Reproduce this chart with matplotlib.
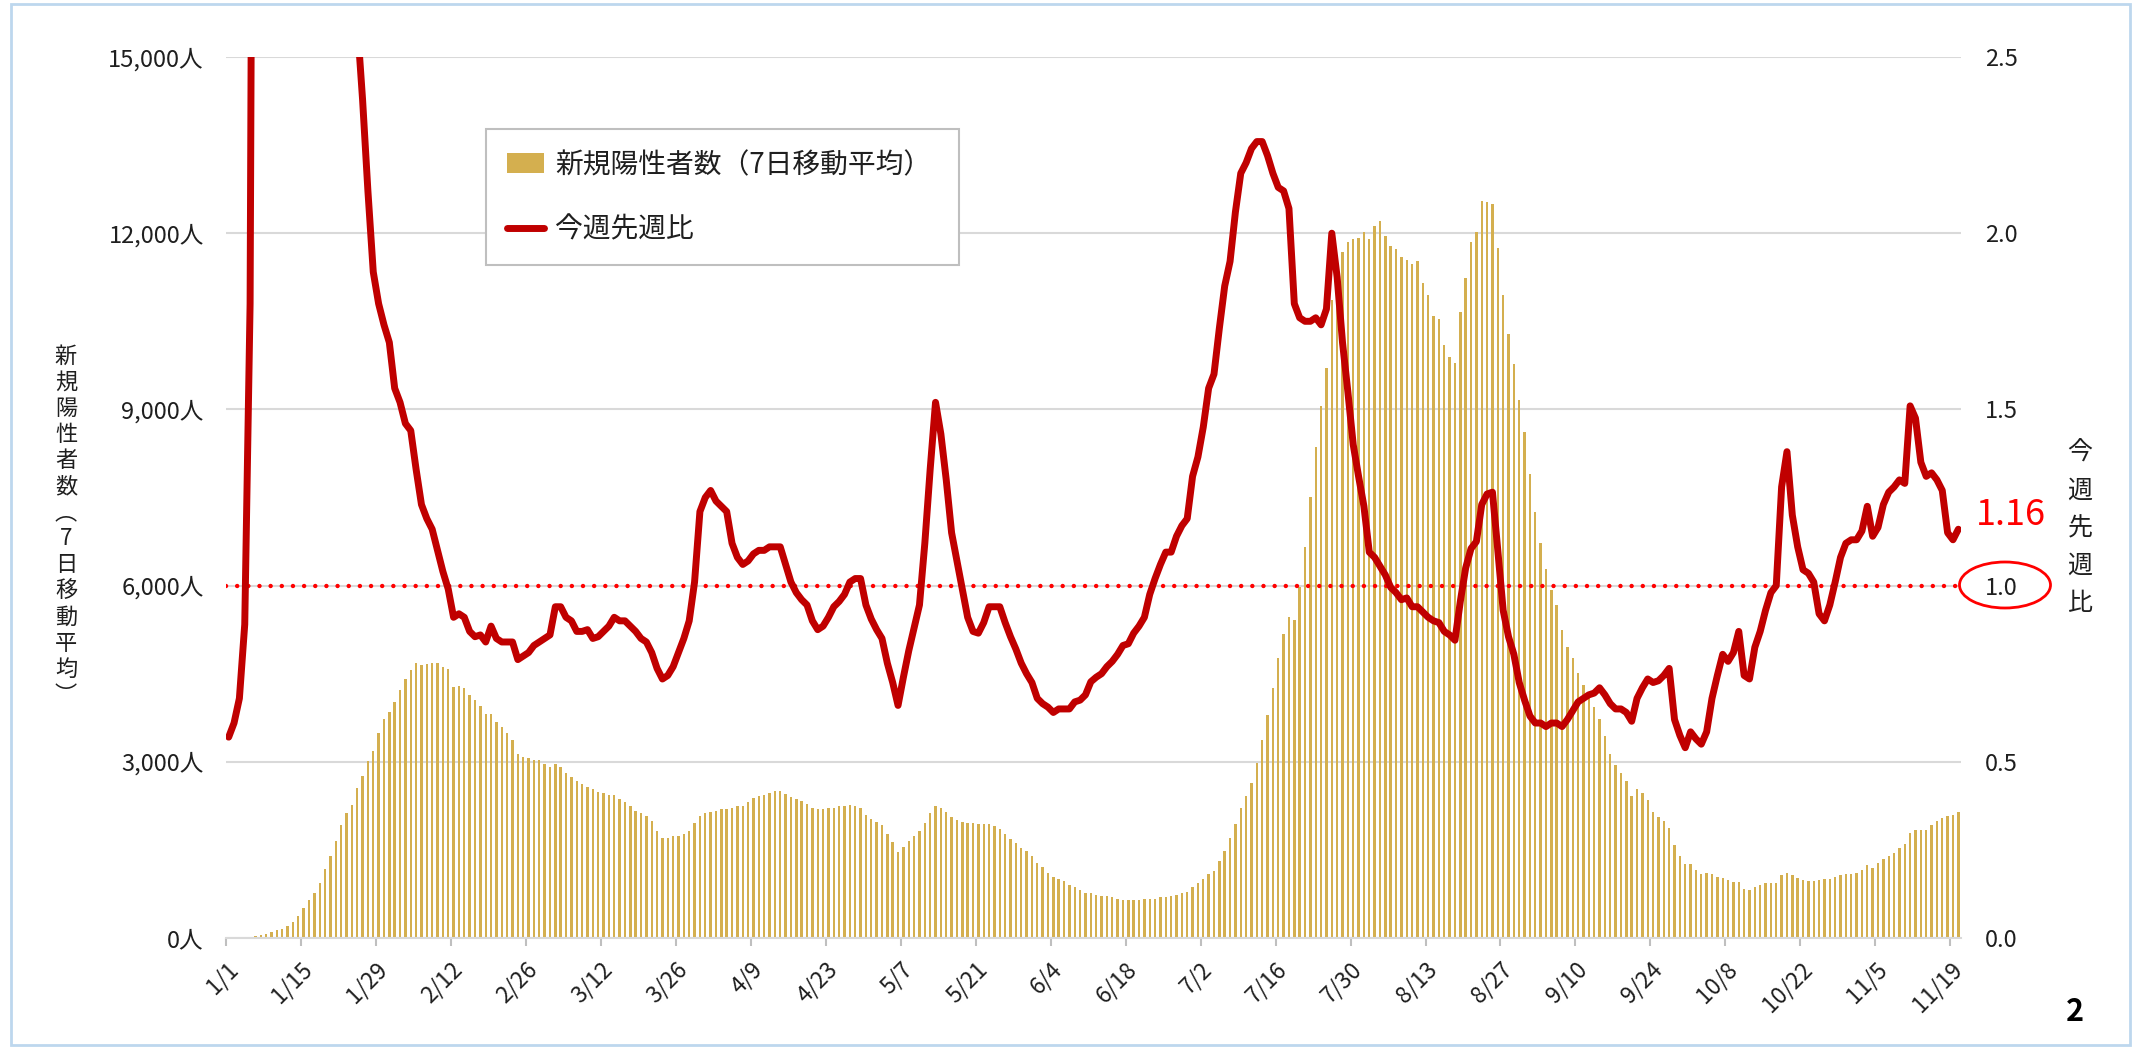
import numpy as np
import matplotlib
matplotlib.use("Agg")
import matplotlib.pyplot as plt
from matplotlib.patches import Patch, Ellipse, Rectangle
from matplotlib.lines import Line2D
from matplotlib.ticker import FuncFormatter

plt.rcParams['font.family'] = ['Noto Sans CJK JP', 'DejaVu Sans']

# x tick labels, every 14 days from 1/1
tick_labels = ['1/1', '1/15', '1/29', '2/12', '2/26', '3/12', '3/26', '4/9',
               '4/23', '5/7', '5/21', '6/4', '6/18', '7/2', '7/16', '7/30',
               '8/13', '8/27', '9/10', '9/24', '10/8', '10/22', '11/5', '11/19']

# new positives, 7-day moving average (1/1 .. 11/20)
new_cases = [
    5, 6, 8, 12, 20, 40, 50, 70, 100, 130,
    150, 200, 270, 375, 510, 640, 770, 940, 1180, 1400,
    1660, 1925, 2120, 2270, 2550, 2760, 3010, 3180, 3485, 3730,
    3850, 4020, 4215, 4410, 4570, 4680, 4640, 4660, 4690, 4690,
    4620, 4580, 4270, 4290, 4260, 4130, 4050, 3950, 3810, 3810,
    3670, 3600, 3485, 3376, 3139, 3080, 3060, 3030, 3030, 2960,
    2910, 2960, 2910, 2815, 2745, 2665, 2615, 2565, 2535, 2490,
    2470, 2440, 2440, 2370, 2320, 2250, 2170, 2120, 2075, 1995,
    1815, 1700, 1700, 1730, 1745, 1775, 1825, 1955, 2075, 2120,
    2150, 2170, 2190, 2190, 2220, 2250, 2250, 2310, 2390, 2420,
    2440, 2470, 2510, 2500, 2450, 2400, 2370, 2340, 2290, 2220,
    2190, 2190, 2210, 2220, 2240, 2250, 2270, 2250, 2220, 2100,
    2020, 1975, 1925, 1775, 1630, 1460, 1550, 1660, 1730, 1825,
    1955, 2120, 2240, 2220, 2150, 2055, 2005, 1975, 1955, 1955,
    1945, 1945, 1945, 1905, 1855, 1775, 1680, 1610, 1530, 1480,
    1400, 1285, 1205, 1115, 1035, 1005, 965, 910, 860, 820,
    770, 760, 730, 720, 710, 690, 660, 650, 650, 650,
    650, 660, 670, 670, 690, 700, 710, 730, 760, 790,
    870, 940, 1005, 1085, 1135, 1305, 1480, 1700, 1945, 2220,
    2420, 2635, 2980, 3375, 3800, 4265, 4760, 5180, 5460, 5410,
    5970, 6665, 7500, 8360, 9060, 9700, 10860, 11420, 11680, 11850,
    11900, 11925, 12015, 11900, 12120, 12210, 11945, 11785, 11730, 11600,
    11550, 11470, 11530, 11155, 10940, 10590, 10545, 10090, 9890, 9790,
    10660, 11235, 11845, 12025, 12555, 12535, 12490, 11745, 10940, 10285,
    9775, 9160, 8620, 7900, 7255, 6730, 6290, 5925, 5675, 5250,
    4955, 4760, 4510, 4315, 4125, 3930, 3730, 3435, 3140, 2940,
    2815, 2665, 2420, 2545, 2470, 2350, 2140, 2055, 1995, 1875,
    1580, 1400, 1265, 1265, 1165, 1085, 1115, 1085, 1045, 1015,
    985, 955, 955, 830, 810, 870, 910, 940, 940, 940,
    1065, 1105, 1065, 1015, 985, 965, 965, 985, 1005, 1005,
    1035, 1065, 1085, 1085, 1105, 1155, 1235, 1185, 1285, 1350,
    1400, 1450, 1530, 1600, 1795, 1845, 1845, 1845, 1925, 1995,
    2045, 2075, 2095, 2140,
]

# this week / last week ratio
ratio = [
    0.57, 0.61, 0.68, 0.89, 1.80, 5.5, 8.0, 9.5, 10.0, 10.8,
    10.0, 9.5, 6.8, 7.5, 7.3, 6.4, 5.9, 6.3, 5.9, 5.2,
    4.4, 3.8, 3.3, 2.95, 2.6, 2.38, 2.12, 1.89, 1.80, 1.74,
    1.69, 1.56, 1.52, 1.46, 1.44, 1.33, 1.23, 1.19, 1.16, 1.10,
    1.04, 0.99, 0.91, 0.92, 0.91, 0.87, 0.855, 0.86, 0.84, 0.885,
    0.85, 0.84, 0.84, 0.84, 0.79, 0.80, 0.81, 0.83, 0.84, 0.85,
    0.86, 0.94, 0.94, 0.91, 0.90, 0.87, 0.87, 0.875, 0.85, 0.855,
    0.87, 0.885, 0.91, 0.90, 0.90, 0.885, 0.87, 0.85, 0.84, 0.81,
    0.765, 0.735, 0.745, 0.77, 0.81, 0.85, 0.90, 1.01, 1.21, 1.25,
    1.27, 1.24, 1.225, 1.21, 1.12, 1.08, 1.06, 1.07, 1.09, 1.10,
    1.10, 1.11, 1.11, 1.11, 1.06, 1.01, 0.98, 0.96, 0.945, 0.90,
    0.875, 0.885, 0.91, 0.94, 0.955, 0.975, 1.01, 1.02, 1.02, 0.945,
    0.905, 0.875, 0.85, 0.78, 0.725, 0.66, 0.74, 0.815, 0.88, 0.945,
    1.12, 1.33, 1.52, 1.43, 1.30, 1.15, 1.07, 0.99, 0.91, 0.87,
    0.865, 0.895, 0.94, 0.94, 0.94, 0.895, 0.855, 0.82, 0.78, 0.75,
    0.725, 0.68, 0.665, 0.655, 0.64, 0.65, 0.65, 0.65, 0.67, 0.675,
    0.69, 0.727, 0.74, 0.75, 0.77, 0.785, 0.805, 0.83, 0.835, 0.865,
    0.885, 0.91, 0.975, 1.02, 1.06, 1.095, 1.095, 1.14, 1.17, 1.19,
    1.31, 1.365, 1.45, 1.56, 1.60, 1.73, 1.85, 1.92, 2.06, 2.17,
    2.20, 2.24, 2.26, 2.26, 2.22, 2.17, 2.13, 2.12, 2.07, 1.80,
    1.76, 1.75, 1.75, 1.76, 1.74, 1.785, 2.00, 1.875, 1.69, 1.55,
    1.40, 1.31, 1.225, 1.095, 1.08, 1.055, 1.03, 0.995, 0.98, 0.96,
    0.965, 0.94, 0.94, 0.925, 0.91, 0.90, 0.895, 0.87, 0.86, 0.845,
    0.955, 1.05, 1.105, 1.125, 1.23, 1.26, 1.265, 1.10, 0.93, 0.855,
    0.805, 0.725, 0.675, 0.63, 0.61, 0.61, 0.60, 0.61, 0.61, 0.60,
    0.62, 0.645, 0.67, 0.68, 0.69, 0.695, 0.71, 0.69, 0.665, 0.65,
    0.65, 0.64, 0.615, 0.68, 0.71, 0.735, 0.725, 0.73, 0.745, 0.765,
    0.62, 0.575, 0.54, 0.585, 0.565, 0.55, 0.585, 0.68, 0.745, 0.805,
    0.785, 0.81, 0.87, 0.745, 0.735, 0.825, 0.87, 0.93, 0.98, 1.00,
    1.28, 1.38, 1.20, 1.11, 1.045, 1.035, 1.01, 0.92, 0.90, 0.945,
    1.01, 1.08, 1.12, 1.13, 1.13, 1.155, 1.225, 1.14, 1.165, 1.23,
    1.265, 1.28, 1.30, 1.29, 1.51, 1.475, 1.35, 1.31, 1.32, 1.30,
    1.27, 1.15, 1.13, 1.16,
]

# vertical-form brackets for the stacked title
left_label = '新規陽性者数︵7日移動平均︶'
right_label = '今週先週比'
latest_text = '1.16'

BAR_C = '#D4AF4F'
LINE_C = '#C00000'
TXT_C = '#1f1f1f'
GRID_C = '#D9D9D9'

W, H = 2134, 1049
n = len(new_cases)
days = np.arange(n) + 0.5

fig = plt.figure(figsize=(W / 100, H / 100), dpi=100)
ax = fig.add_axes([226 / W, 1 - 938 / H, (1961 - 226) / W, (938 - 57) / H])
ax2 = ax.twinx()

ax.bar(days, new_cases, width=0.45, color=BAR_C, zorder=2)
ax.set_xlim(0, n)
ax.set_ylim(0, 15000)
ax.set_yticks(range(0, 15001, 3000))
ax.yaxis.set_major_formatter(FuncFormatter(lambda v, p: f'{int(v):,}人'))
ax.grid(axis='y', color=GRID_C, lw=1.5, zorder=0)
ax.set_axisbelow(True)
ax.set_xticks(np.arange(0, n, 14))
ax.set_xticklabels(tick_labels, rotation=45, ha='right', va='top',
                   rotation_mode='anchor')
ax.tick_params(axis='y', length=0, pad=16, labelsize=17, labelcolor=TXT_C)
ax.tick_params(axis='x', length=6, width=1.5, color='#BFBFBF', pad=8,
               labelsize=16.5, labelcolor=TXT_C)
for s in ['top', 'left', 'right']:
    ax.spines[s].set_visible(False)
ax.spines['bottom'].set_color(GRID_C)
ax.spines['bottom'].set_linewidth(1.5)

ax2.axhline(1.0, color='#FF0000', lw=3.2, linestyle=(0, (0.01, 2.5)),
            dash_capstyle='round', zorder=2)
ax2.plot(days, ratio, color=LINE_C, lw=5, solid_joinstyle='round',
         solid_capstyle='round', zorder=3)
ax2.set_ylim(0, 2.5)
ax2.set_yticks(np.arange(0, 2.51, 0.5))
ax2.yaxis.set_major_formatter(FuncFormatter(lambda v, p: f'{v:.1f}'))
ax2.tick_params(axis='y', length=0, pad=17, labelsize=17, labelcolor=TXT_C)
for s in ax2.spines.values():
    s.set_visible(False)

handles = [Patch(facecolor=BAR_C, edgecolor='none'),
           Line2D([0], [0], color=LINE_C, lw=5, solid_capstyle='round')]
leg = ax2.legend(handles, ['新規陽性者数（7日移動平均）', '今週先週比'],
                 loc='upper left',
                 bbox_to_anchor=(486 / W, 1 - 129 / H - 0.01, 473 / W, 0.01),
                 bbox_transform=fig.transFigure, mode='expand', borderaxespad=0,
                 fontsize=20, frameon=True, fancybox=False, framealpha=1,
                 edgecolor='#BFBFBF', borderpad=0.75, labelspacing=1.25,
                 handlelength=1.35, handletextpad=0.4)
leg.get_frame().set_linewidth(1.5)
for t in leg.get_texts():
    t.set_color(TXT_C)

# vertical axis titles, one character per row
for k, ch in enumerate(left_label):
    fig.text(66 / W, 1 - (356 + 26.1 * k) / H, ch, ha='center', va='center',
             fontsize=16, color=TXT_C)
for k, ch in enumerate(right_label):
    fig.text(2080 / W, 1 - (453 + 37.5 * k) / H, ch, ha='center', va='center',
             fontsize=18, color=TXT_C)

fig.text(2011 / W, 1 - 515 / H, latest_text, ha='center', va='center',
         fontsize=26, color='#FF0000')
fig.patches.append(Ellipse((2005 / W, 1 - 585 / H), 91 / W, 46 / H,
                           transform=fig.transFigure, fill=False,
                           edgecolor='#FF0000', lw=2))
fig.text(2075 / W, 1 - 1012 / H, '2', ha='center', va='center',
         fontsize=22, fontweight='bold', color='black')
fig.patches.append(Rectangle((11 / W, 4 / H), (2130 - 11) / W, (1045 - 4) / H,
                             transform=fig.transFigure, fill=False,
                             edgecolor='#BDD7EE', lw=2))

fig.savefig('out.png', dpi=100)
